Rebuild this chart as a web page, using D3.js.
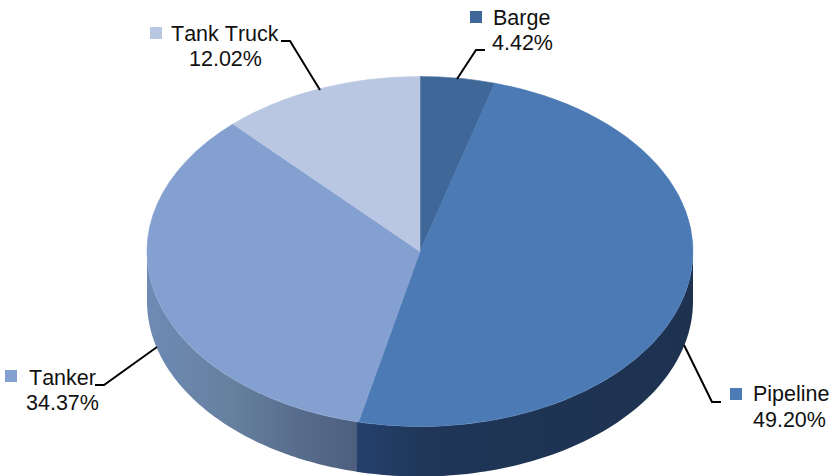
<!DOCTYPE html>
<html><head><meta charset="utf-8">
<script src="https://cdn.jsdelivr.net/npm/d3@7/dist/d3.min.js"></script>
<style>html,body{margin:0;background:#fff}svg{display:block}text{font-family:"Liberation Sans",Arial,sans-serif;font-size:21.5px;font-kerning:none;fill:#111}</style>
</head><body><svg id="c" width="834" height="476"></svg>
<script>
const categories = ["Barge","Pipeline","Tanker","Tank Truck"];
const shares = [4.42,49.20,34.37,12.02];
const colors = ["#3f6899","#4b7ab5","#84a0d0","#b9c7e2"];
const svg = d3.select("#c");
const cx=420, cy=251.5, rx=273, ry=175, depth=50;
const slices = d3.pie().sort(null)(shares);
const defs = svg.append("defs");
function grad(id,stops,x1,x2){
  const g=defs.append("linearGradient").attr("id",id).attr("gradientUnits","userSpaceOnUse")
    .attr("x1",x1).attr("x2",x2).attr("y1",0).attr("y2",0);
  stops.forEach(s=>g.append("stop").attr("offset",s[0]).attr("stop-color",s[1]));
}
grad("wallTanker",[[0,"#6f8ab4"],[.4,"#66809f"],[.75,"#566a8b"],[1,"#4d5e7e"]],147,360);
grad("wallPipe",[[0,"#24406b"],[.2,"#1f3658"],[1,"#1e3250"]],360,693);
const px=a=>cx+rx*Math.sin(a), py=a=>cy-ry*Math.cos(a);
const wall=(a0,a1)=>{
  const n=80, t=d3.range(n+1).map(i=>a0+(a1-a0)*i/n);
  return d3.area().x(px).y0(py).y1(a=>py(a)+depth)(t);
};
const lo=Math.PI/2, hi=3*Math.PI/2;
svg.append("path").attr("d",wall(slices[2].startAngle,hi)).attr("fill","url(#wallTanker)");
svg.append("path").attr("d",wall(lo,slices[1].endAngle+0.006)).attr("fill","url(#wallPipe)");
const arc=d3.arc().innerRadius(0).outerRadius(rx);
svg.append("g").attr("transform",`translate(${cx},${cy}) scale(1,${ry/rx})`)
  .selectAll("path").data(slices).join("path").attr("d",arc).attr("fill",(d,i)=>colors[i])
  .attr("stroke",(d,i)=>colors[i]).attr("stroke-width",0.6).attr("vector-effect","non-scaling-stroke");
const leaders=[
 [[457,79],[476,50],[485,50]],
 [[684,345],[712,402],[721,402]],
 [[157,347],[104,385],[95,385]],
 [[320,90],[290,41],[281,41]]
];
const line=d3.line();
leaders.forEach(l=>svg.append("path").attr("d",line(l)).attr("fill","none").attr("stroke","#000").attr("stroke-width",2));
const labels=[
 {sq:[470,11],nx:493,ny:25,vx:492,vy:50},
 {sq:[730,388],nx:753,ny:401,vx:753,vy:427},
 {sq:[5,370],nx:29,ny:385,vx:26,vy:410},
 {sq:[150,27],nx:171,ny:41,vx:189,vy:66}
];
labels.forEach((p,i)=>{
  svg.append("rect").attr("x",p.sq[0]).attr("y",p.sq[1]).attr("width",12).attr("height",12).attr("fill",colors[i]);
  svg.append("text").attr("x",p.nx).attr("y",p.ny).text(categories[i]);
  svg.append("text").attr("x",p.vx).attr("y",p.vy).text(d3.format(".2f")(shares[i])+"%");
});
</script></body></html>
